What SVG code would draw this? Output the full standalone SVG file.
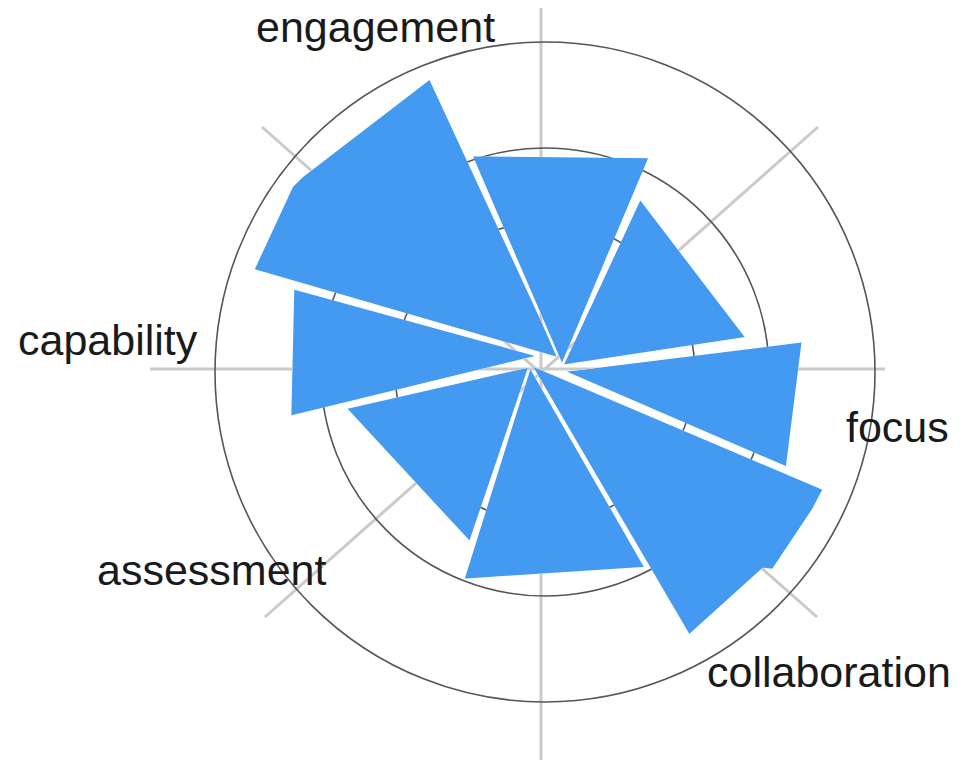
<svg xmlns="http://www.w3.org/2000/svg" xmlns:xlink="http://www.w3.org/1999/xlink" width="970" height="769" viewBox="0 0 970 769">
<style>
.wedge{fill:#4499f0;stroke:#ffffff;stroke-width:2.6;stroke-linejoin:miter}
.mwedge{fill:#000000;stroke:#ffffff;stroke-width:2.6}
.spoke{stroke:#cacaca;stroke-width:3;fill:none}
.ring{stroke:#555555;stroke-width:1.6;fill:none}
.lbl{font-family:"Liberation Sans",Arial,sans-serif;font-size:43px;fill:#1a1a1a}
</style>
<defs>
<polygon id="w-ul" points="560,359 430,78 301,177 292,186 253,270"/>
<polygon id="w-t" points="562,366 471,155 650,157"/>
<polygon id="w-ur" points="562,366 640,198 747,338"/>
<polygon id="w-e" points="562,371 803,341 787,468"/>
<polygon id="w-w" points="540,356 293,288 290,417"/>
<polygon id="w-se" points="530,364 824,489 813,510 773,570 763,569 689,636"/>
<polygon id="w-sw" points="530,366 345,408 470,543"/>
<polygon id="w-s" points="530,366 463,580 646,568"/>
<mask id="gridmask" maskUnits="userSpaceOnUse" x="0" y="0" width="970" height="769">
<rect x="0" y="0" width="970" height="769" fill="#ffffff"/>
<use xlink:href="#w-ul" class="mwedge"/>
<use xlink:href="#w-t" class="mwedge"/>
<use xlink:href="#w-ur" class="mwedge"/>
<use xlink:href="#w-e" class="mwedge"/>
<use xlink:href="#w-w" class="mwedge"/>
<use xlink:href="#w-se" class="mwedge"/>
<use xlink:href="#w-sw" class="mwedge"/>
<use xlink:href="#w-s" class="mwedge"/>
</mask>
</defs>
<rect x="0" y="0" width="970" height="769" fill="#ffffff"/>
<g id="wedges">
<g id="wedge-engagement-left"><use xlink:href="#w-ul" class="wedge"/></g>
<g id="wedge-engagement"><use xlink:href="#w-t" class="wedge"/></g>
<g id="wedge-northeast"><use xlink:href="#w-ur" class="wedge"/></g>
<g id="wedge-focus"><use xlink:href="#w-e" class="wedge"/></g>
<g id="wedge-capability"><use xlink:href="#w-w" class="wedge"/></g>
<g id="wedge-collaboration"><use xlink:href="#w-se" class="wedge"/></g>
<g id="wedge-assessment"><use xlink:href="#w-sw" class="wedge"/></g>
<g id="wedge-south"><use xlink:href="#w-s" class="wedge"/></g>
</g>
<g id="grid" mask="url(#gridmask)">
<line class="spoke" x1="541" y1="8" x2="541" y2="760"/>
<line class="spoke" x1="150" y1="369" x2="885" y2="369"/>
<line class="spoke" x1="262" y1="127" x2="817" y2="617"/>
<line class="spoke" x1="818" y1="127" x2="265" y2="617"/>
<circle class="ring" cx="545" cy="372" r="150"/>
<circle class="ring" cx="545" cy="372" r="224"/>
<circle class="ring" cx="545" cy="372" r="330"/>
</g>
<g id="labels">
<text class="lbl" x="256" y="42">engagement</text>
<text class="lbl" x="18" y="355">capability</text>
<text class="lbl" x="846" y="442">focus</text>
<text class="lbl" x="707" y="687">collaboration</text>
<text class="lbl" x="97" y="585">assessment</text>
</g>
</svg>
